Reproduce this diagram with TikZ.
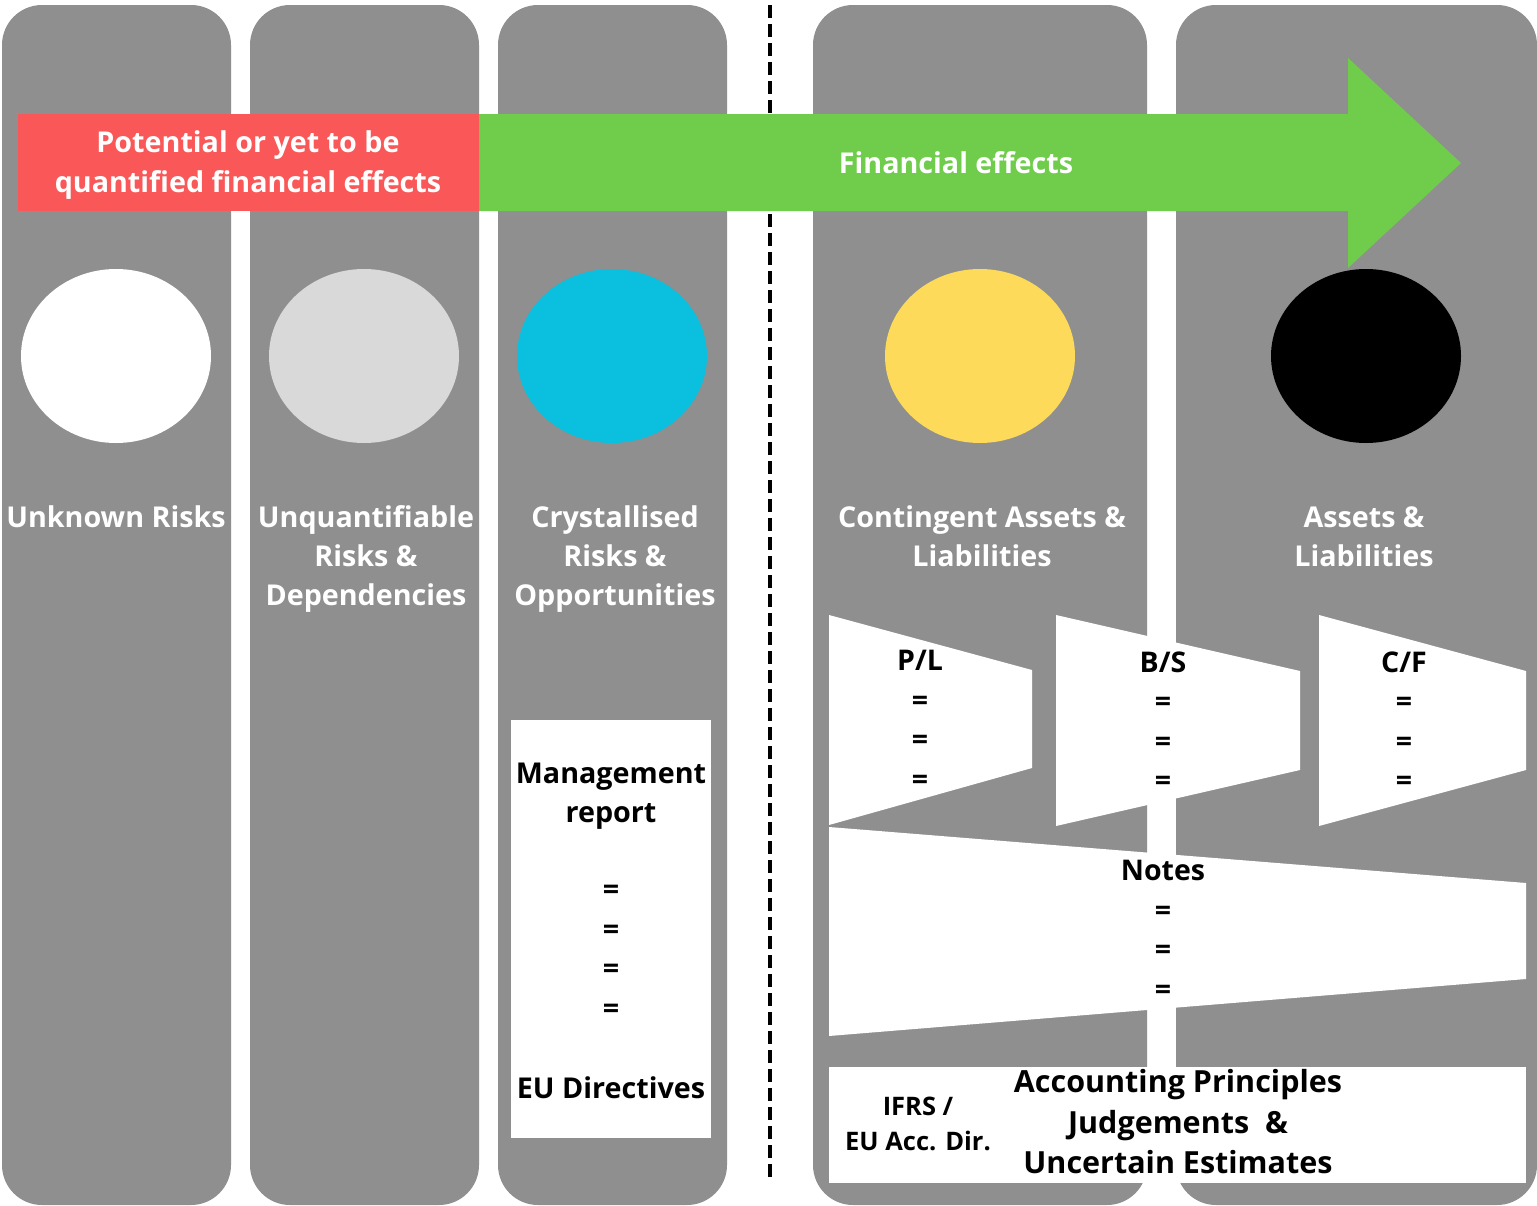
\documentclass[tikz,border=0pt]{standalone}
\usepackage{fontspec}
\setmainfont{Open Sans}
\definecolor{colgray}{RGB}{143,143,143}
\definecolor{effred}{RGB}{250,88,88}
\definecolor{effgreen}{RGB}{112,205,76}
\definecolor{ltgray}{RGB}{217,217,217}
\definecolor{cyanc}{RGB}{11,191,222}
\definecolor{yellowc}{RGB}{253,218,90}
\tikzset{
  colbox/.style={fill=colgray, rounded corners=40pt},
  lbl/.style={text=white, inner sep=0pt, align=center, font=\bfseries\fontsize{28.7}{39.3}\selectfont},
  blk/.style={text=black, inner sep=0pt, align=center, font=\bfseries\fontsize{28.7}{39.5}\selectfont},
  blkacc/.style={text=black, inner sep=0pt, align=center, font=\bfseries\fontsize{30.5}{40.5}\selectfont},
  blksm/.style={text=black, inner sep=0pt, align=center, font=\bfseries\fontsize{28.5}{39.5}\selectfont},
  blkxs/.style={text=black, inner sep=0pt, align=center, font=\bfseries\fontsize{25.5}{35}\selectfont},
  whitebox/.style={fill=white}
}
\begin{document}
\begin{tikzpicture}[x=1pt,y=-1pt]
\useasboundingbox (0,0) rectangle (1537,1205);
\fill[white] (0,0) rectangle (1537,1205);
% columns
\fill[colbox] (2,5) rectangle (231,1205);
\fill[colbox] (250,5) rectangle (479,1205);
\fill[colbox] (498,5) rectangle (727,1205);
\fill[colbox] (813,5) rectangle (1147,1205);
\fill[colbox] (1176,5) rectangle (1537,1205);
% dashed separator
\coordinate (dtop) at (770,5);
\coordinate (dbot) at (770,1180);
\draw[black, line width=3.5pt, dash pattern=on 13pt off 6pt] (dtop) -- (dbot);
% effects band
\fill[effgreen] (479,114) -- (1348,114) -- (1348,58) -- (1461,163) -- (1348,268) -- (1348,211) -- (479,211) -- cycle;
\fill[effred] (18,114) rectangle (479,211);
\node[lbl] (pot) at (248,165) {Potential or yet to be\\quantified financial effects};
\node[lbl] (fin) at (956,163) {Financial effects};
% circles
\fill[white] (116,356) ellipse [x radius=95, y radius=87];
\fill[ltgray] (364,356) ellipse [x radius=95, y radius=87];
\fill[cyanc] (612,356) ellipse [x radius=95, y radius=87];
\fill[yellowc] (980,356) ellipse [x radius=95, y radius=87];
\fill[black] (1366,356) ellipse [x radius=95, y radius=87];
% column labels
\node[lbl] (l1) at (116,517) {Unknown Risks};
\node[lbl] (l2) at (366,559) {Unquantifiable\\Risks \&\\Dependencies};
\node[lbl] (l3) at (615,559) {Crystallised\\Risks \&\\Opportunities};
\node[lbl] (l4) at (982,536) {Contingent Assets \&\\Liabilities};
\node[lbl] (l5) at (1364,537) {Assets \&\\Liabilities};
% management report
\fill[whitebox] (511,720) rectangle (711,1138);
\node[blk] (mr) at (611,796) {Management\\report};
\node[blk] (meq) at (611,952) {=\\=\\=\\=};
\node[blk] (eud) at (611,1088) {EU Directives};
% statements
\fill[whitebox] (829,615) -- (1032,670) -- (1032,768) -- (829,825) -- cycle;
\fill[whitebox] (1056,615) -- (1300,671) -- (1300,770) -- (1056,826) -- cycle;
\fill[whitebox] (1319,615) -- (1526,671) -- (1526,770) -- (1319,826) -- cycle;
\fill[whitebox] (829,827) -- (1526,883) -- (1526,979) -- (829,1036) -- cycle;
\node[blksm] (pl) at (920,720) {P/L\\=\\=\\=};
\node[blksm] (bs) at (1163,721) {B/S\\=\\=\\=};
\node[blksm] (cf) at (1404,721) {C/F\\=\\=\\=};
\node[blksm] (notes) at (1163,930) {Notes\\=\\=\\=};
% accounting box
\fill[whitebox] (829,1067) rectangle (1526,1183);
\node[blkxs] (ifrs) at (918,1124) {IFRS /\\EU Acc. Dir.};
\node[blkacc] (acc) at (1178,1122) {Accounting Principles\\Judgements~~\&\\Uncertain Estimates};
\end{tikzpicture}
\end{document}
